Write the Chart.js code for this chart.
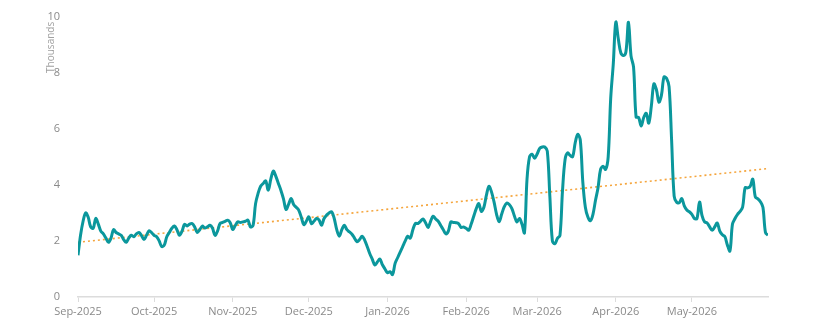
<!DOCTYPE html>
<html><head><meta charset="utf-8">
<script src="https://cdn.jsdelivr.net/npm/chart.js@4/dist/chart.umd.min.js"></script>
<style>html,body{margin:0;padding:0;background:#fff;}#wrap{width:813px;height:333px;}</style>
</head><body><div id="wrap"><canvas id="c" width="813" height="333"></canvas></div>
<script>
const startDate = '2025-09-01';
const values = [
1.49,2.2,2.7,3.0,2.85,2.5,2.45,2.8,2.6,2.35,
2.25,2.1,1.95,2.1,2.4,2.3,2.25,2.2,2.05,1.95,
2.1,2.2,2.15,2.25,2.3,2.2,2.05,2.2,2.36,2.3,
2.2,2.15,2.0,1.8,1.85,2.15,2.3,2.45,2.53,2.4,
2.2,2.35,2.59,2.53,2.6,2.62,2.5,2.3,2.4,2.53,
2.46,2.5,2.56,2.46,2.2,2.35,2.62,2.66,2.7,2.74,
2.65,2.41,2.55,2.68,2.66,2.68,2.7,2.74,2.5,2.55,
3.33,3.7,3.95,4.05,4.14,3.81,4.2,4.49,4.3,4.05,
3.8,3.5,3.12,3.3,3.51,3.3,3.2,3.1,2.85,2.58,
2.7,2.86,2.62,2.7,2.8,2.75,2.56,2.8,2.92,3.0,
3.04,2.8,2.4,2.17,2.4,2.56,2.4,2.32,2.24,2.1,
1.97,2.05,2.17,2.03,1.8,1.55,1.35,1.14,1.25,1.35,
1.15,1.0,0.87,0.9,0.8,1.2,1.4,1.6,1.8,2.0,
2.17,2.1,2.4,2.62,2.62,2.7,2.78,2.65,2.48,2.7,
2.88,2.78,2.7,2.55,2.4,2.25,2.35,2.68,2.66,2.65,
2.62,2.48,2.5,2.45,2.38,2.6,2.88,3.15,3.33,3.05,
3.2,3.63,3.95,3.75,3.39,2.95,2.68,2.95,3.21,3.35,
3.3,3.16,2.9,2.68,2.8,2.6,2.29,4.2,5.0,5.09,
4.95,5.1,5.3,5.35,5.35,5.2,3.6,2.0,1.9,2.09,
2.2,3.8,4.9,5.14,5.05,5.0,5.5,5.8,5.6,4.1,
3.2,2.85,2.72,2.95,3.45,3.9,4.55,4.66,4.55,5.0,
7.1,8.3,9.8,9.2,8.7,8.61,8.75,9.8,8.6,8.2,
6.42,6.4,6.1,6.4,6.55,6.2,6.8,7.6,7.4,6.95,
7.2,7.85,7.8,7.5,5.6,3.6,3.38,3.36,3.51,3.25,
3.1,3.04,2.95,2.8,2.8,3.39,2.9,2.68,2.64,2.5,
2.38,2.5,2.64,2.35,2.22,2.15,1.85,1.64,2.6,2.8,
2.95,3.05,3.21,3.9,3.89,3.95,4.2,3.57,3.5,3.4,
3.2,2.3,2.2
];
const monthLabels = ['Sep-2025','Oct-2025','Nov-2025','Dec-2025','Jan-2026','Feb-2026','Mar-2026','Apr-2026','May-2026'];
const monthStarts = ['2025-09-01','2025-10-01','2025-11-01','2025-12-01','2026-01-01','2026-02-01','2026-03-01','2026-04-01','2026-05-01'];
const trendEnds = [1.95, 4.58];
const yTicks = [0,2,4,6,8,10];

const DAY = 86400000;
const t0 = Date.parse(startDate + 'T00:00:00Z');
const monthIdx = monthStarts.map(d => Math.round((Date.parse(d + 'T00:00:00Z') - t0) / DAY));
const lastIdx = values.length - 1;
const mainData = values.map((v, i) => ({x: i, y: v}));
const trendData = [{x: 0, y: trendEnds[0]}, {x: lastIdx, y: trendEnds[1]}];

new Chart(document.getElementById('c'), {
  type: 'line',
  data: {
    datasets: [
      {data: mainData, borderColor: '#0b979c', borderWidth: 3, pointRadius: 0, tension: 0.35, fill: false},
      {data: trendData, borderColor: '#f5a53c', borderWidth: 1.6, borderDash: [2, 3], pointRadius: 0, tension: 0, fill: false}
    ]
  },
  options: {
    responsive: false,
    devicePixelRatio: 1,
    animation: false,
    layout: {padding: {left: 40, right: 45, top: 16, bottom: 0}},
    plugins: {legend: {display: false}, tooltip: {enabled: false}},
    scales: {
      x: {
        type: 'linear', min: 0, max: lastIdx,
        afterBuildTicks: s => { s.ticks = monthIdx.map(v => ({value: v})); },
        afterFit: s => { s.height = 36; },
        ticks: {
          autoSkip: false, maxRotation: 0, padding: 3,
          color: '#8a8a8a', font: {family: 'Open Sans', size: 11},
          callback: v => { const k = monthIdx.indexOf(v); return k >= 0 ? monthLabels[k] : ''; }
        },
        grid: {display: true, drawOnChartArea: false, drawTicks: true, tickLength: 5, color: '#dcdcdc', lineWidth: 1},
        border: {display: true, color: '#dcdcdc', width: 1.5}
      },
      y: {
        min: 0, max: 10,
        afterBuildTicks: s => { s.ticks = yTicks.map(v => ({value: v})); },
        afterFit: s => { s.width = 38; },
        ticks: {padding: 10, color: '#8a8a8a', font: {family: 'Open Sans', size: 11}},
        grid: {display: false},
        border: {display: false},
        title: {display: true, text: 'Thousands  ', align: 'end', color: '#a0a0a0', font: {family: 'Open Sans', size: 10}, padding: {top: 5, bottom: 0}}
      }
    }
  }
});
</script>
</body></html>
